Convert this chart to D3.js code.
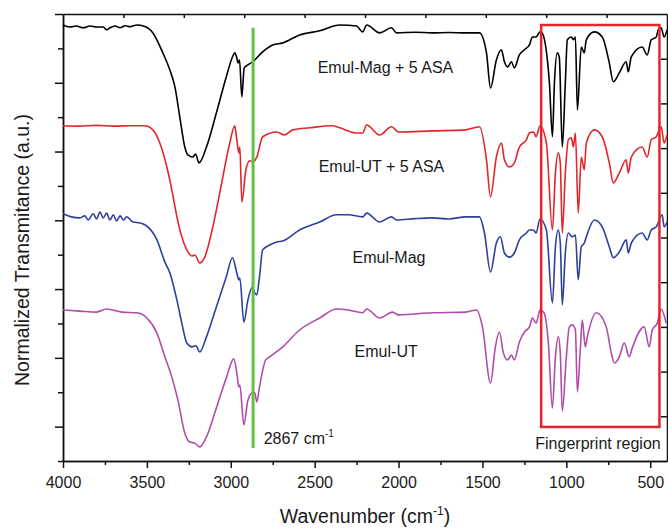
<!DOCTYPE html>
<html>
<head>
<meta charset="utf-8">
<script src="https://cdn.jsdelivr.net/npm/d3@7"></script>
<style>
  body { margin: 0; background: #fff; }
  text { font-family: "Liberation Sans", Arial, sans-serif; fill: #1a1a1a; }
  .axis path, .axis line { stroke: #111; stroke-width: 1.5; }
</style>
</head>
<body>
<div id="chart"></div>
<script>
// spectra: [wavenumber (cm-1), normalized transmittance (a.u., stacked)]
var emulMagASA = [[4000,12.68],[3960,12.62],[3920,12.65],[3880,12.60],[3840,12.65],[3800,12.62],[3760,12.62],[3740,12.54],[3720,12.60],[3690,12.65],[3660,12.60],[3630,12.66],[3600,12.63],[3560,12.68],[3520,12.65],[3464,12.45],[3405,11.87],[3363,11.37],[3333,10.88],[3304,10.01],[3274,9.13],[3256,8.90],[3226,8.84],[3210,8.93],[3190,8.67],[3145,9.13],[3086,10.12],[3027,11.17],[2990,11.75],[2976,11.87],[2964,11.72],[2957,11.58],[2948,11.66],[2934,10.59],[2920,11.43],[2898,11.52],[2869,11.61],[2810,11.90],[2750,12.10],[2690,12.16],[2590,12.39],[2470,12.51],[2350,12.68],[2250,12.65],[2214,12.48],[2190,12.68],[2113,12.45],[2042,12.60],[2012,12.45],[1900,12.47],[1800,12.45],[1700,12.46],[1600,12.45],[1518,12.45],[1476,11.87],[1452,10.85],[1417,11.66],[1387,11.96],[1369,11.61],[1350,11.46],[1327,11.61],[1310,11.43],[1280,11.81],[1250,11.96],[1220,12.10],[1202,12.33],[1180,12.33],[1157,12.48],[1145,12.45],[1101,11.00],[1083,9.43],[1071,11.00],[1054,11.87],[1042,11.75],[1024,9.13],[1006,11.00],[994,12.25],[970,12.33],[958,12.25],[946,12.33],[934,10.21],[911,12.04],[893,11.87],[881,12.25],[833,12.48],[786,12.33],[744,11.58],[720,11.03],[684,11.29],[643,11.61],[631,11.32],[613,11.75],[548,12.04],[518,11.81],[494,12.25],[464,12.33],[452,12.54],[435,12.60],[417,12.33],[400,12.54]];

var emulUTASA = [[4000,9.75],[3900,9.74],[3800,9.76],[3700,9.74],[3600,9.75],[3512,9.75],[3464,9.63],[3423,9.25],[3381,8.55],[3351,7.88],[3321,7.10],[3292,6.52],[3262,6.14],[3232,5.96],[3214,5.99],[3185,5.76],[3155,5.93],[3107,6.81],[3054,8.09],[3006,9.25],[2976,9.75],[2964,9.34],[2952,8.96],[2946,9.13],[2934,7.53],[2910,8.47],[2887,8.73],[2869,8.70],[2845,8.84],[2810,9.43],[2726,9.57],[2679,9.48],[2631,9.63],[2530,9.69],[2393,9.75],[2351,9.69],[2250,9.54],[2214,9.54],[2190,9.77],[2113,9.48],[2042,9.72],[2000,9.57],[1800,9.60],[1600,9.63],[1518,9.72],[1476,8.76],[1452,7.68],[1417,8.84],[1387,9.25],[1369,8.76],[1339,8.55],[1310,8.67],[1280,9.13],[1238,9.34],[1220,9.54],[1196,9.57],[1180,9.43],[1157,9.75],[1119,9.25],[1083,6.72],[1065,8.38],[1048,8.96],[1036,8.67],[1024,6.63],[1006,8.38],[988,9.34],[970,9.40],[958,9.13],[946,9.54],[929,7.21],[911,8.84],[893,8.47],[881,9.25],[833,9.63],[786,9.43],[744,8.67],[720,8.09],[684,8.38],[643,8.76],[631,8.38],[613,8.84],[548,9.13],[518,8.84],[494,9.34],[464,9.43],[435,9.72],[417,9.25],[400,9.48]];

var emulMag = [[4000,7.19],[3950,7.10],[3900,7.07],[3870,7.13],[3850,7.01],[3820,7.19],[3800,7.04],[3780,7.24],[3760,7.07],[3740,7.21],[3720,7.01],[3700,7.16],[3680,6.98],[3660,7.13],[3640,7.01],[3620,7.10],[3583,6.95],[3540,6.92],[3512,6.87],[3440,6.43],[3393,5.79],[3363,5.47],[3321,4.68],[3292,4.01],[3262,3.43],[3232,3.32],[3208,3.35],[3185,3.17],[3145,3.61],[3086,4.48],[3027,5.35],[2990,5.91],[2964,5.47],[2952,5.27],[2946,5.32],[2922,4.04],[2898,4.68],[2871,5.06],[2857,4.89],[2845,4.83],[2829,5.35],[2810,6.14],[2768,6.28],[2726,6.37],[2690,6.40],[2590,6.72],[2470,6.95],[2370,7.16],[2300,7.16],[2214,7.10],[2190,7.21],[2113,6.95],[2042,7.10],[2012,7.01],[1900,7.05],[1800,7.07],[1700,7.04],[1600,7.10],[1518,7.10],[1488,6.63],[1452,5.50],[1417,6.34],[1393,6.52],[1369,6.05],[1339,5.93],[1310,6.05],[1280,6.43],[1238,6.63],[1220,6.72],[1196,6.72],[1180,6.63],[1157,7.04],[1119,6.72],[1083,4.60],[1065,6.23],[1048,6.72],[1036,6.34],[1024,4.54],[1006,6.05],[988,6.63],[964,6.52],[946,6.57],[929,5.27],[911,6.23],[893,6.34],[881,6.52],[833,7.01],[786,6.81],[744,6.23],[720,5.91],[684,6.08],[643,6.43],[631,6.05],[613,6.34],[548,6.63],[518,6.43],[494,6.72],[464,6.81],[429,7.16],[417,6.81],[400,6.95]];

var emulUT = [[4000,4.39],[3900,4.36],[3800,4.33],[3740,4.42],[3650,4.33],[3560,4.31],[3500,4.16],[3440,3.72],[3393,3.03],[3351,2.44],[3315,1.77],[3274,0.81],[3244,0.55],[3214,0.52],[3185,0.41],[3145,0.70],[3086,1.54],[3027,2.41],[2982,2.97],[2964,2.56],[2952,2.15],[2946,2.21],[2922,1.05],[2898,1.77],[2871,1.98],[2857,1.98],[2845,1.72],[2829,2.15],[2792,2.94],[2768,3.03],[2690,3.32],[2590,3.81],[2470,4.16],[2370,4.42],[2300,4.39],[2214,4.31],[2190,4.42],[2113,4.16],[2036,4.33],[2000,4.25],[1800,4.31],[1600,4.33],[1536,4.39],[1500,3.90],[1452,2.27],[1423,3.32],[1399,3.75],[1375,3.14],[1350,2.94],[1327,3.08],[1310,2.94],[1280,3.46],[1250,3.75],[1220,3.90],[1202,4.16],[1180,4.01],[1157,4.39],[1133,4.31],[1107,3.43],[1083,1.54],[1065,3.03],[1048,3.61],[1036,3.14],[1024,1.45],[1000,3.03],[982,3.90],[964,3.96],[946,3.81],[934,2.01],[917,3.23],[905,4.10],[887,3.32],[875,3.61],[821,4.31],[762,3.90],[732,3.14],[714,2.85],[684,3.03],[655,3.43],[625,3.03],[607,3.29],[536,3.90],[506,3.32],[488,3.81],[458,4.01],[435,4.42],[405,4.01]];

var seriesNames = ["Emul-Mag + 5 ASA", "Emul-UT + 5 ASA", "Emul-Mag", "Emul-UT"];
var seriesColors = ["#000000", "#e3262b", "#2f3f9c", "#b24ca9"];
var majorTicks = [4000, 3500, 3000, 2500, 2000, 1500, 1000, 500];
var minorTicks = [3750, 3250, 2750, 2250, 1750, 1250, 750];
var markerWavenumber = 2867;
var fingerprint = [1150, 445];

var width = 668, height = 529;

var x = d3.scaleLinear().domain([4000, 400]).range([63, 667]);
var y = d3.scaleLinear().domain([0, 13]).range([461, 14]);
// frame ticks on top / right are just evenly spaced marks
var xTop = d3.scaleLinear().domain([0, 10]).range([63, 667]);
var yRight = d3.scaleLinear().domain([0, 10]).range([461, 14]);

var svg = d3.select("#chart").append("svg")
    .attr("width", width)
    .attr("height", height);

// axes
svg.append("g")
    .attr("class", "axis")
    .attr("transform", "translate(0,461)")
    .call(d3.axisBottom(x).tickValues(minorTicks).tickSize(4).tickSizeOuter(0).tickFormat(""));

svg.append("g")
    .attr("class", "axis")
    .attr("transform", "translate(0,461)")
    .call(d3.axisBottom(x).tickValues(majorTicks).tickSize(7).tickSizeOuter(0).tickPadding(9).tickFormat(d3.format("d")))
    .selectAll("text")
      .style("font-size", "16px")
      .attr("fill", "#1a1a1a");

svg.append("g")
    .attr("class", "axis")
    .attr("transform", "translate(63,0)")
    .call(d3.axisLeft(y).tickValues([0, 2, 4, 6, 8, 10, 12]).tickSize(5).tickSizeOuter(0).tickFormat(""));

svg.append("g")
    .attr("class", "axis")
    .attr("transform", "translate(63,0)")
    .call(d3.axisLeft(y).tickValues([1, 3, 5, 7, 9, 11, 13]).tickSize(8).tickSizeOuter(0).tickFormat(""));

svg.append("g")
    .attr("class", "axis")
    .attr("transform", "translate(0,14)")
    .call(d3.axisTop(xTop).tickValues(d3.range(1, 10)).tickSize(-4).tickSizeOuter(0).tickFormat(""));

svg.append("g")
    .attr("class", "axis")
    .attr("transform", "translate(667,0)")
    .call(d3.axisRight(yRight).tickValues(d3.range(1, 10)).tickSize(-6).tickSizeOuter(0).tickFormat(""));

// spectra
var line = d3.line()
    .x(function(d) { return x(d[0]); })
    .y(function(d) { return y(d[1]); })
    .curve(d3.curveMonotoneX);

var spectra = [emulMagASA, emulUTASA, emulMag, emulUT];

svg.selectAll(".spectrum")
    .data(spectra)
  .enter().append("path")
    .attr("class", "spectrum")
    .attr("fill", "none")
    .attr("stroke", function(d, i) { return seriesColors[i]; })
    .attr("stroke-width", 1.6)
    .attr("stroke-linejoin", "round")
    .attr("d", line);

// 2867 marker
svg.append("line")
    .attr("x1", x(markerWavenumber))
    .attr("x2", x(markerWavenumber))
    .attr("y1", y(12.6))
    .attr("y2", y(0.38))
    .attr("stroke", "#62c043")
    .attr("stroke-width", 3);

// fingerprint box
svg.append("rect")
    .attr("x", x(fingerprint[0]))
    .attr("y", y(12.68))
    .attr("width", x(fingerprint[1]) - x(fingerprint[0]))
    .attr("height", y(0.99) - y(12.68))
    .attr("fill", "none")
    .attr("stroke", "#e8242b")
    .attr("stroke-width", 2.5);

// series labels
var labelPos = [[2482, 11.29], [2476, 8.41], [2274, 5.76], [2262, 3.03]];
svg.selectAll(".label")
    .data(seriesNames)
  .enter().append("text")
    .attr("class", "label")
    .attr("x", function(d, i) { return x(labelPos[i][0]); })
    .attr("y", function(d, i) { return y(labelPos[i][1]); })
    .style("font-size", "16px")
    .text(function(d) { return d; });

var mk = svg.append("text")
    .attr("x", x(2804))
    .attr("y", y(0.49))
    .style("font-size", "16px")
    .text("2867 cm");
mk.append("tspan").attr("dy", -7).style("font-size", "10px").text("-1");

svg.append("text")
    .attr("x", x(1185))
    .attr("y", y(0.36))
    .style("font-size", "16px")
    .text("Fingerprint region");

// axis titles
var xt = svg.append("text")
    .attr("x", 365)
    .attr("y", 523)
    .attr("text-anchor", "middle")
    .style("font-size", "19.5px")
    .text("Wavenumber (cm");
xt.append("tspan").attr("dy", -8).style("font-size", "12px").text("-1");
xt.append("tspan").attr("dy", 8).text(")");

svg.append("text")
    .attr("transform", "translate(29,250) rotate(-90)")
    .attr("text-anchor", "middle")
    .style("font-size", "19.5px")
    .text("Normalized Transmitance (a.u.)");
</script>
</body>
</html>
